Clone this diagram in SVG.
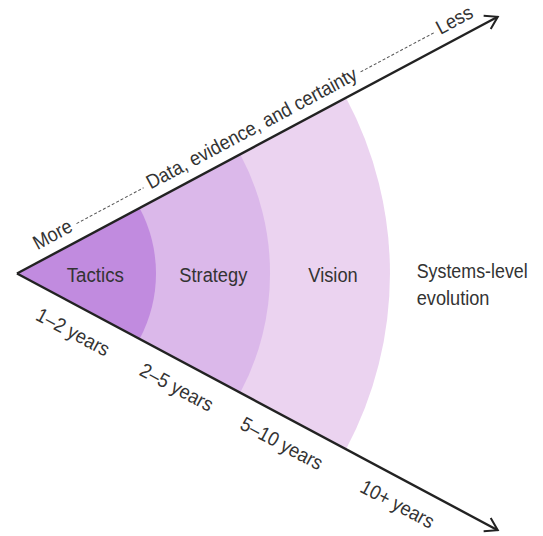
<svg xmlns="http://www.w3.org/2000/svg" width="543" height="536" viewBox="0 0 543 536">
  <style>
    .lbl { font-family: "Liberation Sans", Arial, sans-serif; font-size: 20px; fill: #333; }
    .axis { stroke: #222; stroke-width: 2.4; fill: none; }
    .dash { stroke: #555; stroke-width: 1; stroke-dasharray: 3 2; fill: none; }
  </style>
  <defs>
    <marker id="arrow" markerUnits="userSpaceOnUse" markerWidth="20" markerHeight="20" refX="15" refY="10" orient="auto">
      <path d="M3,2.5 L15,10 L3,17.5" fill="none" stroke="#222" stroke-width="2"/>
    </marker>
  </defs>
  <rect width="543" height="536" fill="#fff"/>

  <g id="vision">
    <path d="M17,273.5 L346,97.8 A373,373 0 0 1 346,449.2 Z" fill="#ebd3f0"/>
    <text class="lbl" x="308.3" y="282" textLength="49.4" lengthAdjust="spacingAndGlyphs">Vision</text>
  </g>
  <g id="strategy">
    <path d="M17,273.5 L240.2,154.3 A253,253 0 0 1 240.2,392.7 Z" fill="#dbb8ea"/>
    <text class="lbl" x="179.3" y="282" textLength="68" lengthAdjust="spacingAndGlyphs">Strategy</text>
  </g>
  <g id="tactics">
    <path d="M17,273.5 L139.6,208 A139,139 0 0 1 139.6,339 Z" fill="#c18bdf"/>
    <text class="lbl" x="66.7" y="282" textLength="57.3" lengthAdjust="spacingAndGlyphs">Tactics</text>
  </g>
  <g id="systems">
    <text class="lbl" x="416.7" y="278" textLength="111" lengthAdjust="spacingAndGlyphs">Systems-level</text>
    <text class="lbl" x="416.7" y="305" textLength="72.8" lengthAdjust="spacingAndGlyphs">evolution</text>
  </g>

  <g id="connectors">
    <g transform="translate(17,273.5) rotate(-28.1)">
      <line class="axis" x1="0" y1="0" x2="545" y2="0" marker-end="url(#arrow)"/>
      <text class="lbl" x="29" y="-11" textLength="41.5" lengthAdjust="spacingAndGlyphs">More</text>
      <line class="dash" x1="76" y1="-16" x2="152" y2="-16"/>
      <text class="lbl" x="157.5" y="-11" textLength="235.7" lengthAdjust="spacingAndGlyphs">Data, evidence, and certainty</text>
      <line class="dash" x1="398" y1="-16" x2="481" y2="-16"/>
      <text class="lbl" x="486" y="-11" textLength="38.4" lengthAdjust="spacingAndGlyphs">Less</text>
    </g>
    <g transform="translate(17,273.5) rotate(28.1)">
      <line class="axis" x1="0" y1="0" x2="545" y2="0" marker-end="url(#arrow)"/>
      <text class="lbl" x="37" y="32" textLength="79.9" lengthAdjust="spacingAndGlyphs">1–2 years</text>
      <text class="lbl" x="154.5" y="32" textLength="79.9" lengthAdjust="spacingAndGlyphs">2–5 years</text>
      <text class="lbl" x="268.6" y="32" textLength="90" lengthAdjust="spacingAndGlyphs">5–10 years</text>
      <text class="lbl" x="404" y="31" textLength="80.4" lengthAdjust="spacingAndGlyphs">10+ years</text>
    </g>
  </g>
</svg>
